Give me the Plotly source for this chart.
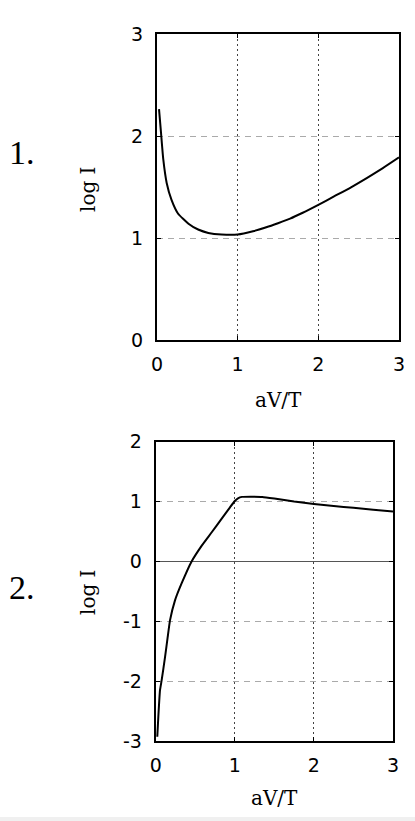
import plotly.graph_objects as go

W, H = 415, 821

# ---- data ----
x1 = [0.025, 0.05, 0.078, 0.12, 0.18, 0.26, 0.39, 0.51, 0.636, 0.8, 1.0, 1.19, 1.355, 1.5, 1.65, 1.8, 2.0,
      2.2, 2.4, 2.6, 2.8, 3.0]
y1 = [2.264, 2.03, 1.77, 1.54, 1.373, 1.24, 1.14, 1.083, 1.05, 1.034, 1.034, 1.066, 1.105, 1.145, 1.19, 1.245, 1.325,
      1.41, 1.495, 1.587, 1.685, 1.79]

x2 = [0.02, 0.033, 0.054, 0.076, 0.118, 0.151, 0.18, 0.243, 0.33, 0.454, 0.58, 0.706, 0.83, 0.937, 1.0,
      1.04, 1.09, 1.2, 1.35, 1.5, 1.75, 2.0, 2.25, 2.5, 2.75, 3.0]
y2 = [-2.93, -2.6, -2.155, -1.98, -1.6, -1.27, -0.99, -0.655, -0.36, 0.0, 0.26, 0.483, 0.707, 0.9, 1.01,
      1.055, 1.078, 1.082, 1.078, 1.05, 1.0, 0.96, 0.925, 0.895, 0.865, 0.835]

xticks = [0, 1, 2, 3]
yticks1 = [0, 1, 2, 3]
yticks2 = [-3, -2, -1, 0, 1, 2]
panel_labels = ["1.", "2."]
xtitle = "aV/T"
ytitle = "log I"

# ---- layout helpers (pixel boxes) ----
def px_dom_x(a, b):
    return [a / W, b / W]

def px_dom_y(top, bottom):
    return [1 - bottom / H, 1 - top / H]

box1 = dict(l=157, r=399, t=34, b=340)
box2 = dict(l=155.7, r=393, t=441.7, b=741)

fig = go.Figure()
fig.add_trace(go.Scatter(x=x1, y=y1, mode="lines", line=dict(color="black", width=2, shape="spline", smoothing=0.5),
                         xaxis="x", yaxis="y", showlegend=False, hoverinfo="skip"))
fig.add_trace(go.Scatter(x=x2, y=y2, mode="lines", line=dict(color="black", width=2, shape="spline", smoothing=0.3),
                         xaxis="x2", yaxis="y2", showlegend=False, hoverinfo="skip"))

tickfont = dict(family="DejaVu Sans", size=19, color="black")

def xaxis(domain, anchor):
    return dict(domain=domain, anchor=anchor, range=[0, 3], tickvals=xticks,
                ticktext=[str(v) for v in xticks], automargin=False,
                showline=True, linewidth=2, linecolor="black", mirror="ticks",
                ticks="inside", ticklen=4, tickwidth=1, tickcolor="black",
                showgrid=True, gridcolor="#444", gridwidth=1, griddash="2px,3px",
                zeroline=False, tickfont=tickfont, ticklabelstandoff=6)

def yaxis(domain, anchor, rng, vals, zl):
    return dict(domain=domain, anchor=anchor, range=rng, tickvals=vals,
                ticktext=[str(v) for v in vals], automargin=False,
                showline=True, linewidth=2, linecolor="black", mirror="ticks",
                ticks="inside", ticklen=4, tickwidth=1, tickcolor="black",
                showgrid=True, gridcolor="#aaa", gridwidth=1, griddash="6px,5px",
                zeroline=zl, zerolinecolor="#555", zerolinewidth=1,
                tickfont=tickfont, ticklabelstandoff=8)

fig.update_layout(
    template="none",
    width=W, height=H,
    margin=dict(l=0, r=0, t=0, b=0, pad=0, autoexpand=False),
    paper_bgcolor="white", plot_bgcolor="white",
    xaxis=xaxis(px_dom_x(box1["l"], box1["r"]), "y"),
    yaxis=yaxis(px_dom_y(box1["t"], box1["b"]), "x", [0, 3], yticks1, False),
    xaxis2=xaxis(px_dom_x(box2["l"], box2["r"]), "y2"),
    yaxis2=yaxis(px_dom_y(box2["t"], box2["b"]), "x2", [-3, 2], yticks2, True),
)

ann = []
def A(text, xpx, ypx, size, family, angle=0):
    ann.append(dict(text=text, x=xpx / W, y=1 - ypx / H, xref="paper", yref="paper",
                    showarrow=False, xanchor="center", yanchor="middle", textangle=angle,
                    font=dict(family=family, size=size, color="black")))

A(panel_labels[0], 22, 153, 34, "Liberation Serif")
A(panel_labels[1], 22, 587, 34, "Liberation Serif")
A(ytitle, 88, 189, 20, "DejaVu Serif", -90)
A(ytitle, 88, 592, 20, "DejaVu Serif", -90)
A(xtitle, 278, 400, 20, "DejaVu Serif")
A(xtitle, 274, 798, 20, "DejaVu Serif")
fig.update_layout(annotations=ann)

fig.add_shape(type="rect", xref="paper", yref="paper", x0=0, x1=1, y0=0, y1=1 - 817 / H,
              fillcolor="#f0f0f0", line=dict(width=0), layer="below")

fig.write_html("out.html", config={"displayModeBar": False, "staticPlot": True},
               post_script="document.body.style.margin='0';document.body.style.overflow='hidden';")
